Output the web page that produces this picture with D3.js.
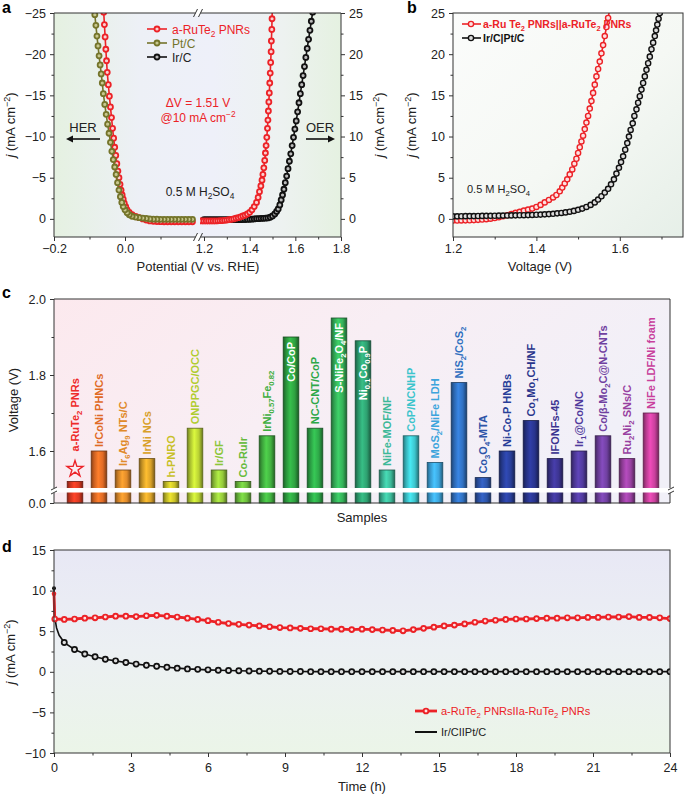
<!DOCTYPE html>
<html><head><meta charset="utf-8">
<script src="https://cdn.jsdelivr.net/npm/d3@7"></script>
<style>body{margin:0;background:#fff}svg{display:block}</style>
</head><body><svg id="chart" width="685" height="794"></svg>
<script>
// ================= DATA =================
// Panel a: HER (left axis, j in mA cm-2, negative up) and OER (right axis)
const herRuV = [0.19,0.18,0.17,0.16,0.15,0.14,0.13,0.12,0.11,0.10,0.09,0.08,0.07,0.06,0.05,0.04,0.03,0.02,0.012,0.006,0.002,-0.002,-0.005,-0.008,-0.011,-0.014,-0.017,-0.020,-0.023,-0.026,-0.029,-0.032,-0.035,-0.038,-0.041,-0.044,-0.047,-0.050,-0.052,-0.054,-0.056,-0.058,-0.060];
const herRuJ = [0.35,0.35,0.35,0.35,0.35,0.35,0.35,0.35,0.35,0.34,0.33,0.30,0.25,0.15,0.0,-0.15,-0.3,-0.5,-0.8,-1.1,-1.5,-1.9,-2.4,-2.9,-3.5,-4.2,-5.0,-5.8,-6.7,-7.7,-8.7,-9.8,-11.0,-12.3,-13.6,-14.9,-16.3,-17.8,-19.2,-20.6,-22.1,-23.6,-25.1];
const herPtV = [0.19,0.18,0.17,0.16,0.15,0.14,0.13,0.12,0.11,0.10,0.09,0.08,0.07,0.06,0.05,0.04,0.03,0.02,0.012,0.006,0.0,-0.005,-0.009,-0.013,-0.017,-0.021,-0.025,-0.029,-0.033,-0.037,-0.041,-0.045,-0.049,-0.053,-0.057,-0.061,-0.064,-0.067,-0.070,-0.073,-0.076,-0.079,-0.082,-0.085,-0.087];
const herPtJ = [0.05,0.05,0.05,0.05,0.05,0.05,0.05,0.05,0.05,0.05,0.04,0.03,0.0,-0.05,-0.1,-0.15,-0.22,-0.32,-0.5,-0.75,-1.1,-1.5,-2.0,-2.7,-3.5,-4.4,-5.4,-6.3,-7.2,-8.2,-9.3,-10.4,-11.5,-12.7,-13.9,-15.2,-16.5,-17.6,-18.7,-19.8,-21.0,-22.2,-23.5,-24.8,-26.0];
const oerRuV = [1.18,1.19,1.20,1.21,1.22,1.23,1.24,1.25,1.26,1.27,1.28,1.29,1.30,1.31,1.32,1.33,1.34,1.35,1.36,1.37,1.38,1.39,1.40,1.41,1.42,1.43,1.437,1.443,1.449,1.454,1.458,1.462,1.466,1.469,1.472,1.475,1.478,1.480,1.482,1.484,1.486,1.488,1.490,1.492,1.494,1.495,1.497,1.498,1.499];
const oerRuJ = [-0.25,-0.25,-0.25,-0.25,-0.25,-0.25,-0.25,-0.25,-0.24,-0.22,-0.2,-0.18,-0.15,-0.1,-0.05,0.0,0.08,0.15,0.25,0.35,0.45,0.6,0.8,1.1,1.5,2.0,2.6,3.3,4.0,4.7,5.4,6.2,7.1,8.0,8.9,9.9,11.0,12.0,13.1,14.2,15.3,16.5,17.7,19.0,20.3,21.6,23.0,24.3,25.5];
const oerIrV = [1.20,1.21,1.22,1.23,1.24,1.25,1.26,1.27,1.28,1.29,1.30,1.31,1.32,1.33,1.34,1.35,1.36,1.37,1.38,1.39,1.40,1.41,1.42,1.43,1.44,1.45,1.46,1.47,1.48,1.49,1.50,1.51,1.518,1.525,1.532,1.538,1.544,1.550,1.556,1.562,1.568,1.574,1.580,1.586,1.592,1.598,1.604,1.610,1.616,1.622,1.628,1.634,1.640,1.646,1.652,1.658,1.664,1.670,1.676];
const oerIrJ = [-0.1,-0.1,-0.1,-0.1,-0.1,-0.1,-0.1,-0.1,-0.1,-0.1,-0.1,-0.1,-0.1,-0.1,-0.1,-0.1,-0.1,-0.09,-0.08,-0.07,-0.05,-0.03,0.0,0.02,0.03,0.05,0.07,0.09,0.12,0.2,0.35,0.6,0.9,1.2,1.7,2.3,2.9,3.6,4.4,5.2,6.1,7.0,7.9,8.9,9.9,10.9,11.9,13.0,14.1,15.2,16.3,17.4,18.5,19.6,20.7,21.8,22.9,24.0,25.1];

// Panel b: two-electrode polarisation curves
const bRuV = [1.20,1.21,1.22,1.23,1.24,1.25,1.26,1.27,1.28,1.29,1.30,1.31,1.32,1.33,1.34,1.35,1.36,1.37,1.38,1.39,1.40,1.41,1.42,1.43,1.44,1.448,1.456,1.462,1.468,1.474,1.480,1.486,1.491,1.496,1.500,1.504,1.508,1.512,1.516,1.520,1.524,1.528,1.532,1.536,1.540,1.544,1.548,1.552,1.556,1.560,1.564,1.568,1.572,1.576];
const bRuJ = [-0.2,-0.2,-0.19,-0.18,-0.17,-0.15,-0.12,-0.08,-0.03,0.03,0.1,0.2,0.32,0.45,0.6,0.73,0.86,1.0,1.12,1.25,1.45,1.7,2.0,2.3,2.6,2.9,3.35,3.8,4.3,4.8,5.4,6.0,6.7,7.3,8.0,8.7,9.4,10.1,10.9,11.7,12.5,13.4,14.3,15.3,16.3,17.3,18.2,19.1,20.1,21.1,22.2,23.3,24.4,25.5];
const bIrV = [1.20,1.21,1.22,1.23,1.24,1.25,1.26,1.27,1.28,1.29,1.30,1.31,1.32,1.33,1.34,1.35,1.36,1.37,1.38,1.39,1.40,1.41,1.42,1.43,1.44,1.45,1.46,1.47,1.48,1.49,1.50,1.51,1.52,1.53,1.54,1.548,1.556,1.564,1.572,1.579,1.586,1.592,1.598,1.603,1.608,1.613,1.618,1.622,1.626,1.631,1.635,1.640,1.644,1.648,1.652,1.656,1.660,1.664,1.668,1.672,1.676,1.680,1.684,1.687,1.690,1.693,1.696,1.699];
const bIrJ = [0.3,0.31,0.32,0.33,0.34,0.34,0.35,0.36,0.37,0.37,0.38,0.39,0.4,0.41,0.42,0.43,0.44,0.45,0.46,0.48,0.5,0.52,0.55,0.58,0.62,0.67,0.72,0.79,0.87,0.97,1.1,1.25,1.45,1.7,2.0,2.35,2.75,3.2,3.65,4.2,4.8,5.5,6.2,6.9,7.6,8.4,9.2,10.0,10.8,11.6,12.5,13.3,14.1,14.9,15.7,16.5,17.3,18.1,18.9,19.7,20.6,21.4,22.2,22.9,23.6,24.3,25.0,25.7];

// Panel c: comparison of cell voltages @10 mA cm-2
const sampleLabels = ["a-RuTe_{2} PNRs","IrCoNi PHNCs","Ir_{6}Ag_{9} NTs/C","IrNi NCs","h-PNRO","ONPPGC/OCC","Ir/GF","Co-RuIr","IrNi_{0.57}Fe_{0.82}","Co/CoP","NC-CNT/CoP","S-NiFe_{2}O_{4}/NF","Ni_{0.1}Co_{0.9}P","NiFe-MOF/NF","CoP/NCNHP","MoS_{2}/NiFe LDH","NiS_{2}/CoS_{2}","Co_{3}O_{4}-MTA","Ni-Co-P HNBs","Co_{1}Mo_{1}CH/NF","IFONFs-45","Ir_{1}@Co/NC","Co/β-Mo_{2}C@N-CNTs","Ru_{2}Ni_{2} SNs/C","NiFe LDF/Ni foam"];
const sampleVoltage = [1.52,1.60,1.55,1.58,1.52,1.66,1.55,1.52,1.64,1.90,1.66,1.95,1.89,1.55,1.64,1.57,1.78,1.53,1.60,1.68,1.58,1.60,1.64,1.58,1.70];
const barColors = ["#dc3a22","#e06a25","#e08a2a","#d8a028","#c8c028","#b8d034","#94c83a","#6cbc3c","#42b040","#2ea040","#2ea848","#34b058","#2ea070","#3cb898","#3cc4cc","#3ca4dc","#3070c0","#2c54a8","#283e98","#28348c","#3c3490","#503a9c","#7040a0","#9840a0","#c8409c"];
const labelColors = ["#ee2a2a","#e06a25","#e08a2a","#d8a028","#c8c028","#b0cc30","#8cc63a","#66ba3c","#3eae40","#ffffff","#2ea848","#ffffff","#ffffff","#3cb898","#3cc4cc","#3ca4dc","#3070c0","#2c54a8","#283e98","#28348c","#3c3490","#503a9c","#7040a0","#9840a0","#c8409c"];
const cTicks = [1.6, 1.8, 2.0];
const cMinor = [1.7, 1.9];

// Panel d: chronopotentiometry stability
const dTimeRed = [0,0.03,0.4,0.8,1.2,1.6,2.0,2.4,2.8,3.2,3.6,4.0,4.4,4.8,5.2,5.6,6.0,6.4,6.8,7.2,7.6,8.0,8.4,8.8,9.2,9.6,10.0,10.4,10.8,11.2,11.6,12.0,12.4,12.8,13.2,13.6,14.0,14.4,14.8,15.2,15.6,16.0,16.4,16.8,17.2,17.6,18.0,18.4,18.8,19.2,19.6,20.0,20.4,20.8,21.2,21.6,22.0,22.4,22.8,23.2,23.6,24.0];
const dJRed = [9.6,6.5,6.45,6.5,6.6,6.65,6.75,6.85,6.85,6.8,6.9,6.95,6.85,6.75,6.6,6.45,6.3,6.1,5.95,5.85,5.75,5.65,5.55,5.45,5.4,5.35,5.3,5.3,5.25,5.25,5.2,5.25,5.2,5.15,5.1,5.05,5.2,5.35,5.5,5.65,5.75,5.9,6.1,6.25,6.35,6.45,6.5,6.5,6.55,6.6,6.6,6.65,6.65,6.7,6.7,6.75,6.75,6.8,6.7,6.7,6.65,6.55];
const dTimeBlack = [0,0.02,0.05,0.1,0.2,0.4,0.8,1.2,1.6,2.0,2.4,2.8,3.2,3.6,4.0,4.4,4.8,5.2,5.6,6.0,6.4,6.8,7.2,7.6,8.0,8.4,8.8,9.2,9.6,10.0,10.4,10.8,11.2,11.6,12.0,12.4,12.8,13.2,13.6,14.0,14.4,14.8,15.2,15.6,16.0,16.4,16.8,17.2,17.6,18.0,18.4,18.8,19.2,19.6,20.0,20.4,20.8,21.2,21.6,22.0,22.4,22.8,23.2,23.6,24.0];
const dJBlack = [10.3,7.6,6.3,5.4,4.5,3.6,2.75,2.2,1.85,1.55,1.35,1.15,0.95,0.8,0.68,0.56,0.45,0.36,0.3,0.24,0.2,0.16,0.13,0.1,0.08,0.06,0.05,0.04,0.03,0.02,0.02,0.02,0.02,0.02,0.02,0.02,0.02,0.02,0.02,0.02,0.02,0.02,0.02,0.02,0.02,0.02,0.02,0.02,0.02,0.02,0.02,0.02,0.02,0.02,0.02,0.02,0.02,0.02,0.02,0.02,0.02,0.02,0.02,0.02,0.02];

// ================= DRAWING =================
const FONT = "'Liberation Sans', Arial, Helvetica, sans-serif";
const RED = "#ec2227", OLIVE = "#74742a", BLACK = "#111";
const svg = d3.select("#chart").attr("font-family", FONT);
const defs = svg.append("defs");

function rich(t, str, size) {
  t.attr("font-size", size);
  const parts = str.split(/(_\{[^}]*\}|\^\{[^}]*\})/).filter(s => s !== "");
  let shift = 0;
  parts.forEach(p => {
    let txt = p, s = 0, fs = size;
    if (p.startsWith("_{")) { txt = p.slice(2, -1); s = size * 0.25; fs = size * 0.7; }
    else if (p.startsWith("^{")) { txt = p.slice(2, -1); s = -size * 0.38; fs = size * 0.7; }
    t.append("tspan").attr("dy", s - shift).attr("font-size", fs).text(txt);
    shift = s;
  });
  return t;
}
function text(g, x, y, str, size, opts = {}) {
  const t = g.append("text").attr("x", x).attr("y", y)
    .attr("fill", opts.fill || "#222").attr("text-anchor", opts.anchor || "start")
    .attr("font-weight", opts.weight || "normal");
  if (opts.rotate) t.attr("transform", `rotate(${opts.rotate},${x},${y})`);
  return rich(t, str, size);
}
function jLabel(g, x, y) {
  const t = g.append("text").attr("x", x).attr("y", y).attr("text-anchor", "middle")
    .attr("fill", "#222").attr("font-size", 13).attr("transform", `rotate(-90,${x},${y})`);
  t.append("tspan").attr("font-style", "italic").text("j");
  t.append("tspan").text(" (mA cm");
  t.append("tspan").attr("dy", -5).attr("font-size", 9).text("−2");
  t.append("tspan").attr("dy", 5).text(")");
}
function grad(id, stops, x2 = 1, y2 = 0) {
  const gr = defs.append("linearGradient").attr("id", id)
    .attr("x1", 0).attr("y1", 0).attr("x2", x2).attr("y2", y2);
  stops.forEach(([o, c]) => gr.append("stop").attr("offset", o).attr("stop-color", c));
}
function styleAxis(g, fs) {
  g.attr("font-family", FONT).attr("font-size", fs);
  g.select(".domain").remove();
  g.selectAll(".tick line").attr("stroke", "#333");
  g.selectAll(".tick text").attr("fill", "#222");
}
function line(g, xs, ys, sx, sy, color, w) {
  const pts = xs.map((x, i) => [sx(x), sy(ys[i])]);
  g.append("path").attr("d", d3.line()(pts)).attr("fill", "none")
    .attr("stroke", color).attr("stroke-width", w).attr("stroke-linejoin", "round");
}
function marks(g, xs, ys, sx, sy, color, r, sw, fill = "#fff") {
  g.append("g").selectAll("circle").data(xs.map((x, i) => [x, ys[i]])).join("circle")
    .attr("cx", d => sx(d[0])).attr("cy", d => sy(d[1])).attr("r", r)
    .attr("fill", fill).attr("stroke", color).attr("stroke-width", sw);
}
function clip(id, x, y, w, h) {
  defs.append("clipPath").attr("id", id).append("rect")
    .attr("x", x).attr("y", y).attr("width", w).attr("height", h);
}
function seg(g, x1, y1, x2, y2, c = "#333", w = 1) {
  g.append("line").attr("x1", x1).attr("y1", y1).attr("x2", x2).attr("y2", y2)
    .attr("stroke", c).attr("stroke-width", w);
}
function breakMark(g, x, y, vertical) {
  if (vertical) {
    g.append("rect").attr("x", x - 3).attr("y", y - 2.5).attr("width", 6).attr("height", 5).attr("fill", "#fff");
    seg(g, x - 3, y - 0.5, x + 3, y - 3.5); seg(g, x - 3, y + 3.5, x + 3, y + 0.5);
  } else {
    g.append("rect").attr("x", x - 2.5).attr("y", y - 3).attr("width", 5).attr("height", 6).attr("fill", "#fff");
    seg(g, x - 4.5, y + 4, x - 0.5, y - 4); seg(g, x + 0.5, y + 4, x + 4.5, y - 4);
  }
}

// panel letters
text(svg, 2, 13, "a", 16, { weight: "bold", fill: "#000" });
text(svg, 407, 13, "b", 16, { weight: "bold", fill: "#000" });
text(svg, 2, 298, "c", 16, { weight: "bold", fill: "#000" });
text(svg, 2, 552, "d", 16, { weight: "bold", fill: "#000" });

// ---------- Panel a ----------
{
  const L = 54, R = 341, T = 13, B = 237, bk1 = 196, bk2 = 200;
  const xL = d3.scaleLinear().domain([-0.2, 0.2]).range([L, bk1]);
  const xR = d3.scaleLinear().domain([1.2, 1.8]).range([204, R]);
  const yL = d3.scaleLinear().domain([2.2, -25]).range([B, T]);
  const yR = d3.scaleLinear().domain([-2.2, 25]).range([B, T]);
  const g = svg.append("g");
  grad("bgA", [["0%", "#e5f1e1"], ["30%", "#edf0f6"], ["55%", "#eef0f9"], ["80%", "#edf2f0"], ["100%", "#e5f1e1"]]);
  g.append("rect").attr("x", L).attr("y", T).attr("width", R - L).attr("height", B - T).attr("fill", "url(#bgA)");
  clip("clA1", L, T, bk1 - L, B - T);
  clip("clA2", bk2, T, R - bk2, B - T);
  const g1 = g.append("g").attr("clip-path", "url(#clA1)");
  const g2 = g.append("g").attr("clip-path", "url(#clA2)");
  line(g1, herRuV, herRuJ, xL, yL, RED, 1.6);
  marks(g1, herRuV, herRuJ, xL, yL, RED, 2.5, 1.8, "#fbd0d0");
  line(g1, herPtV, herPtJ, xL, yL, OLIVE, 1.6);
  marks(g1, herPtV, herPtJ, xL, yL, OLIVE, 2.5, 1.8, "#c8c890");
  line(g2, oerIrV, oerIrJ, xR, yR, BLACK, 1.6);
  marks(g2, oerIrV, oerIrJ, xR, yR, BLACK, 2.5, 1.8, "#bbb");
  line(g2, oerRuV, oerRuJ, xR, yR, RED, 1.6);
  marks(g2, oerRuV, oerRuJ, xR, yR, RED, 2.5, 1.8, "#fbd0d0");
  seg(g, L, T, L, B); seg(g, R, T, R, B);
  seg(g, L, T, R, T); seg(g, L, B, R, B);
  breakMark(g, (bk1 + bk2) / 2, T, false);
  breakMark(g, (bk1 + bk2) / 2, B, false);
  const ax1 = g.append("g").attr("transform", `translate(${L},0)`)
    .call(d3.axisLeft(yL).tickValues([-25, -20, -15, -10, -5, 0]).tickSize(4).tickPadding(4));
  styleAxis(ax1, 12.5);
  const ax1m = g.append("g").attr("transform", `translate(${L},0)`)
    .call(d3.axisLeft(yL).tickValues([-22.5, -17.5, -12.5, -7.5, -2.5]).tickSize(2.5).tickFormat(""));
  styleAxis(ax1m, 12);
  const ax2 = g.append("g").attr("transform", `translate(${R},0)`)
    .call(d3.axisRight(yR).tickValues([0, 5, 10, 15, 20, 25]).tickSize(4).tickPadding(4));
  styleAxis(ax2, 12.5);
  const ax2m = g.append("g").attr("transform", `translate(${R},0)`)
    .call(d3.axisRight(yR).tickValues([2.5, 7.5, 12.5, 17.5, 22.5]).tickSize(2.5).tickFormat(""));
  styleAxis(ax2m, 12);
  const ax3 = g.append("g").attr("transform", `translate(0,${B})`)
    .call(d3.axisBottom(xL).tickValues([-0.2, 0.0]).tickSize(4).tickFormat(d3.format(".1f")));
  styleAxis(ax3, 12.5);
  const ax3m = g.append("g").attr("transform", `translate(0,${B})`)
    .call(d3.axisBottom(xL).tickValues([-0.1, 0.1]).tickSize(2.5).tickFormat(""));
  styleAxis(ax3m, 12);
  const ax4 = g.append("g").attr("transform", `translate(0,${B})`)
    .call(d3.axisBottom(xR).tickValues([1.2, 1.4, 1.6, 1.8]).tickSize(4).tickFormat(d3.format(".1f")));
  styleAxis(ax4, 12.5);
  const ax4m = g.append("g").attr("transform", `translate(0,${B})`)
    .call(d3.axisBottom(xR).tickValues([1.3, 1.5, 1.7]).tickSize(2.5).tickFormat(""));
  styleAxis(ax4m, 12);
  text(g, 198, 271, "Potential (V vs. RHE)", 13, { anchor: "middle" });
  jLabel(g, 15, 125);
  jLabel(g, 384, 125);
  [[RED, "#fbd0d0", "a-RuTe_{2} PNRs", 29], [OLIVE, "#c8c890", "Pt/C", 43], [BLACK, "#bbb", "Ir/C", 57]].forEach(([c, f, lab, y]) => {
    seg(g, 147, y, 167, y, c, 1.6);
    g.append("circle").attr("cx", 157).attr("cy", y).attr("r", 2.5).attr("fill", f).attr("stroke", c).attr("stroke-width", 1.8);
    text(g, 172, y + 4.5, lab, 12, { fill: c === BLACK ? "#222" : c });
  });
  text(g, 198, 107, "ΔV = 1.51 V", 12, { anchor: "middle", fill: RED });
  text(g, 198, 122, "@10 mA cm^{−2}", 12, { anchor: "middle", fill: RED });
  text(g, 83, 132, "HER", 13, { anchor: "middle" });
  text(g, 320, 132, "OER", 13, { anchor: "middle" });
  seg(g, 100, 139, 70, 139, "#111", 1.6);
  g.append("path").attr("d", "M66,139 L73,135.5 L73,142.5 Z").attr("fill", "#111");
  seg(g, 306, 139, 331, 139, "#111", 1.6);
  g.append("path").attr("d", "M335,139 L328,135.5 L328,142.5 Z").attr("fill", "#111");
  text(g, 200, 196, "0.5 M H_{2}SO_{4}", 12, { anchor: "middle" });
}

// ---------- Panel b ----------
{
  const L = 453, R = 683, T = 13, B = 237;
  const x = d3.scaleLinear().domain([1.2, 1.7516]).range([L, R]);
  const y = d3.scaleLinear().domain([-2.2, 25]).range([B, T]);
  const g = svg.append("g");
  grad("bgB", [["0%", "#fbfcfb"], ["55%", "#f5f8f4"], ["100%", "#e6efe8"]], 1, 1);
  g.append("rect").attr("x", L).attr("y", T).attr("width", R - L).attr("height", B - T).attr("fill", "url(#bgB)");
  clip("clB", L, T, R - L, B - T);
  const gc = g.append("g").attr("clip-path", "url(#clB)");
  line(gc, bRuV, bRuJ, x, y, RED, 1.6);
  marks(gc, bRuV, bRuJ, x, y, RED, 2.6, 1.4, "#fde0e0");
  line(gc, bIrV, bIrJ, x, y, BLACK, 1.6);
  marks(gc, bIrV, bIrJ, x, y, BLACK, 2.6, 1.4, "#ddd");
  g.append("rect").attr("x", L).attr("y", T).attr("width", R - L).attr("height", B - T)
    .attr("fill", "none").attr("stroke", "#333").attr("stroke-width", 1);
  const a1 = g.append("g").attr("transform", `translate(${L},0)`)
    .call(d3.axisLeft(y).tickValues([0, 5, 10, 15, 20, 25]).tickSize(4).tickPadding(4));
  styleAxis(a1, 12.5);
  const a1m = g.append("g").attr("transform", `translate(${L},0)`)
    .call(d3.axisLeft(y).tickValues([2.5, 7.5, 12.5, 17.5, 22.5]).tickSize(2.5).tickFormat(""));
  styleAxis(a1m, 12);
  const a2 = g.append("g").attr("transform", `translate(0,${B})`)
    .call(d3.axisBottom(x).tickValues([1.2, 1.4, 1.6]).tickSize(4).tickFormat(d3.format(".1f")));
  styleAxis(a2, 12.5);
  const a2m = g.append("g").attr("transform", `translate(0,${B})`)
    .call(d3.axisBottom(x).tickValues([1.3, 1.5, 1.7]).tickSize(2.5).tickFormat(""));
  styleAxis(a2m, 12);
  text(g, 540, 271, "Voltage (V)", 13, { anchor: "middle" });
  jLabel(g, 416, 125);
  seg(g, 462, 24, 481, 24, RED, 1.6);
  g.append("circle").attr("cx", 471).attr("cy", 24).attr("r", 2.6).attr("fill", "#fde0e0").attr("stroke", RED).attr("stroke-width", 1.4);
  text(g, 483, 28, "a-Ru Te_{2} PNRs||a-RuTe_{2} PNRs", 10.5, { weight: "bold", fill: RED });
  seg(g, 462, 38, 481, 38, BLACK, 1.6);
  g.append("circle").attr("cx", 471).attr("cy", 38).attr("r", 2.6).attr("fill", "#ddd").attr("stroke", BLACK).attr("stroke-width", 1.4);
  text(g, 483, 42, "Ir/C|Pt/C", 10.5, { weight: "bold", fill: "#111" });
  text(g, 467, 193, "0.5 M H_{2}SO_{4}", 11, {});
}

// ---------- Panel c ----------
{
  const L = 54, R = 670, T = 299, B = 503, brk = 489;
  const y = d3.scaleLinear().domain([1.5, 2.0]).range([brk, T]);
  const x = d3.scaleBand().domain(d3.range(sampleLabels.length)).range([63, 663]).paddingInner(0.35).paddingOuter(0.175);
  const g = svg.append("g");
  grad("bgC", [["0%", "#fce9ee"], ["50%", "#f8eef4"], ["100%", "#f1f0f8"]], 1, 0.4);
  g.append("rect").attr("x", L).attr("y", T).attr("width", R - L).attr("height", B - T).attr("fill", "url(#bgC)");
  sampleVoltage.forEach((v, i) => {
    const c = d3.color(barColors[i]);
    grad("bar" + i, [["0%", c.darker(1.4).formatHex()], ["18%", c.darker(0.3).formatHex()], ["45%", c.brighter(0.5).formatHex()], ["75%", c.formatHex()], ["100%", c.darker(1.6).formatHex()]]);
    g.append("rect").attr("x", x(i)).attr("y", y(v)).attr("width", x.bandwidth()).attr("height", B - y(v))
      .attr("fill", `url(#bar${i})`).attr("stroke", c.darker(2).formatHex()).attr("stroke-width", 0.8);
  });
  g.append("rect").attr("x", L + 1).attr("y", brk - 1).attr("width", R - L - 1).attr("height", 4.5).attr("fill", "#fff");
  sampleVoltage.forEach((v, i) => {
    const cx = x(i) + x.bandwidth() / 2 + 4;
    const inside = v > 1.85;
    const yy = inside ? y(v) + 5 : y(v) - 4 - (i === 0 ? 26 : 0);
    text(g, cx, yy, sampleLabels[i], 11, { weight: "bold", fill: labelColors[i], anchor: inside ? "end" : "start", rotate: -90 });
  });
  g.append("path").attr("d", d3.symbol(d3.symbolStar, 80)()).attr("transform", `translate(${x(0) + x.bandwidth() / 2},469)`)
    .attr("fill", "none").attr("stroke", RED).attr("stroke-width", 1.4);
  seg(g, L, T, R, T); seg(g, R, T, R, B); seg(g, L, B, R, B); seg(g, L, T, L, B);
  breakMark(g, L, brk + 1.5, true);
  breakMark(g, R + 1, brk + 1.5, true);
  const a1 = g.append("g").attr("transform", `translate(${L},0)`)
    .call(d3.axisLeft(y).tickValues(cTicks).tickSize(4).tickPadding(4).tickFormat(d3.format(".1f")));
  styleAxis(a1, 12.5);
  const a1m = g.append("g").attr("transform", `translate(${L},0)`)
    .call(d3.axisLeft(y).tickValues(cMinor).tickSize(2.5).tickFormat(""));
  styleAxis(a1m, 12);
  const zero = d3.scaleLinear().domain([0, 1]).range([B, B - 100]);
  const a0 = g.append("g").attr("transform", `translate(${L},0)`)
    .call(d3.axisLeft(zero).tickValues([0]).tickSize(4).tickPadding(4).tickFormat(d3.format(".1f")));
  styleAxis(a0, 12.5);
  text(g, 18, 400, "Voltage (V)", 13, { anchor: "middle", rotate: -90 });
  text(g, 362, 522, "Samples", 13, { anchor: "middle" });
}

// ---------- Panel d ----------
{
  const L = 54, R = 670, T = 550, B = 753;
  const x = d3.scaleLinear().domain([0, 24]).range([L, R]);
  const y = d3.scaleLinear().domain([-10, 15]).range([B, T]);
  const g = svg.append("g");
  grad("bgD", [["0%", "#e8e8f5"], ["50%", "#ecf0f3"], ["100%", "#ebf5e8"]], 0, 1);
  g.append("rect").attr("x", L).attr("y", T).attr("width", R - L).attr("height", B - T).attr("fill", "url(#bgD)");
  clip("clD", L - 3, T, R - L + 3, B - T);
  const gc = g.append("g").attr("clip-path", "url(#clD)");
  line(gc, dTimeBlack, dJBlack, x, y, BLACK, 1.6);
  const mkB = dTimeBlack.filter(t => t >= 0.4), mkBj = dJBlack.filter((_, i) => dTimeBlack[i] >= 0.4);
  marks(gc, mkB, mkBj, x, y, BLACK, 2.6, 1.7, "#ddd");
  gc.append("circle").attr("cx", x(0)).attr("cy", y(10.3)).attr("r", 2).attr("fill", BLACK);
  line(gc, dTimeRed, dJRed, x, y, RED, 2.8);
  marks(gc, dTimeRed.slice(1), dJRed.slice(1), x, y, RED, 2.4, 1.9, "#fde4e4");
  gc.append("circle").attr("cx", x(0)).attr("cy", y(9.6)).attr("r", 2.3).attr("fill", RED);
  g.append("rect").attr("x", L).attr("y", T).attr("width", R - L).attr("height", B - T)
    .attr("fill", "none").attr("stroke", "#333").attr("stroke-width", 1);
  const a1 = g.append("g").attr("transform", `translate(${L},0)`)
    .call(d3.axisLeft(y).tickValues([-10, -5, 0, 5, 10, 15]).tickSize(4).tickPadding(4));
  styleAxis(a1, 12.5);
  const a1m = g.append("g").attr("transform", `translate(${L},0)`)
    .call(d3.axisLeft(y).tickValues([-7.5, -2.5, 2.5, 7.5, 12.5]).tickSize(2.5).tickFormat(""));
  styleAxis(a1m, 12);
  const a2 = g.append("g").attr("transform", `translate(0,${B})`)
    .call(d3.axisBottom(x).tickValues(d3.range(0, 25, 3)).tickSize(4).tickPadding(6));
  styleAxis(a2, 12.5);
  const a2m = g.append("g").attr("transform", `translate(0,${B})`)
    .call(d3.axisBottom(x).tickValues(d3.range(1.5, 24, 3)).tickSize(2.5).tickFormat(""));
  styleAxis(a2m, 12);
  text(g, 362, 791, "Time (h)", 13, { anchor: "middle" });
  jLabel(g, 15, 652);
  seg(g, 415, 711, 437, 711, RED, 2.8);
  g.append("circle").attr("cx", 426).attr("cy", 711).attr("r", 2.4).attr("fill", "#fde4e4").attr("stroke", RED).attr("stroke-width", 1.9);
  text(g, 441, 715, "a-RuTe_{2} PNRsIIa-RuTe_{2} PNRs", 11, { fill: RED });
  seg(g, 415, 732, 437, 732, BLACK, 2);
  text(g, 441, 736, "Ir/CIIPt/C", 11, {});
}
</script></body></html>
